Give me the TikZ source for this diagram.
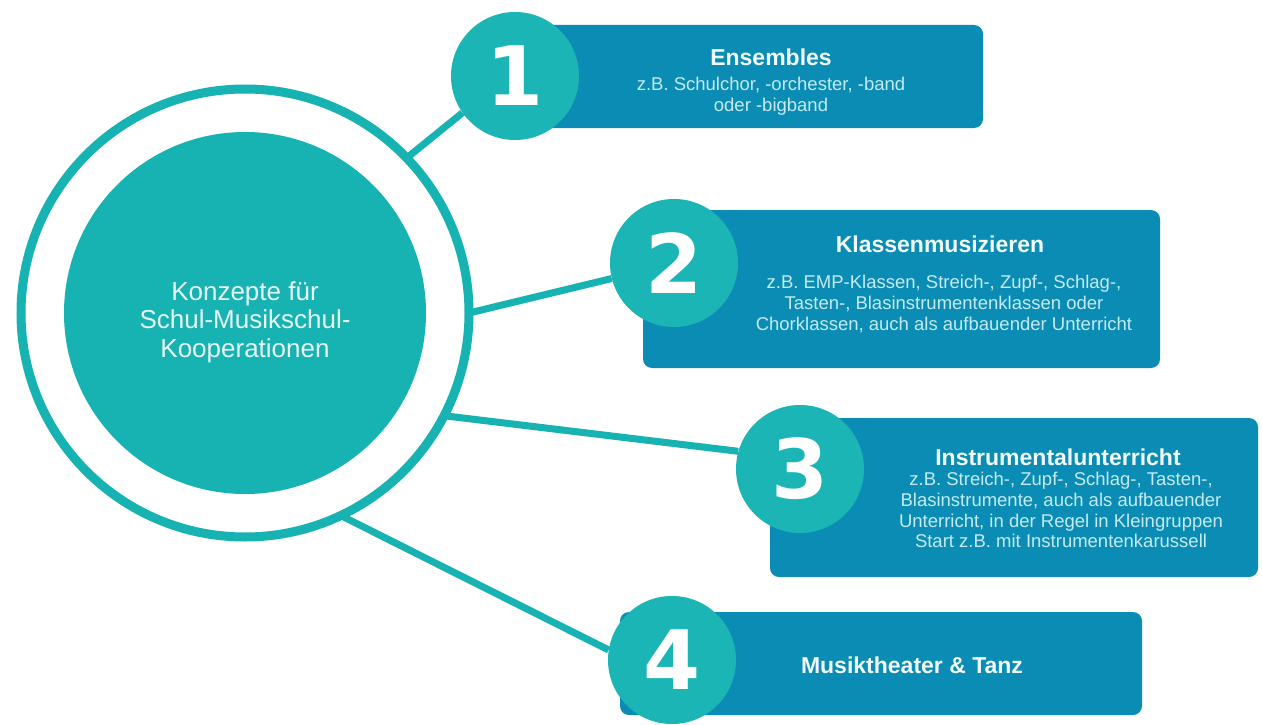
\documentclass[tikz,border=0pt]{standalone}
\usepackage{fontspec}
\setmainfont{Liberation Sans}
\newfontfamily\digitfont{DejaVu Sans}
\definecolor{tealc}{HTML}{17B2B2}
\definecolor{badgec}{HTML}{1BB5B5}
\definecolor{boxc}{HTML}{0A8CB4}
\definecolor{titlec}{HTML}{F2FBFD}
\definecolor{subc}{HTML}{C4EBF3}
\definecolor{hubtextc}{HTML}{E6F8F8}
\pgfdeclarelayer{bg}
\pgfdeclarelayer{links}
\pgfsetlayers{bg,links,main}
\begin{document}
\begin{tikzpicture}[x=1pt,y=-1pt,
  hub/.style={circle, fill=tealc, minimum size=362pt, inner sep=0pt},
  hubring/.style={circle, draw=tealc, line width=9pt, minimum size=448pt, inner sep=0pt},
  hubtext/.style={text=hubtextc, font=\fontsize{26}{28.5}\selectfont, align=center, inner sep=0pt},
  badge/.style={circle, fill=badgec, minimum size=128pt, inner sep=0pt, text=white, font=\digitfont\bfseries\fontsize{82}{82}\selectfont},
  panel/.style={rectangle, rounded corners=9pt, fill=boxc, inner sep=0pt},
  ptitle/.style={text=titlec, font=\bfseries\fontsize{23}{26}\selectfont, inner sep=0pt},
  ptext/.style={text=subc, font=\fontsize{18.5}{20.8}\selectfont, align=center, inner sep=0pt},
  link/.style={draw=tealc, line width=7pt}
]
\useasboundingbox (0,0) rectangle (1262,725);
\begin{pgfonlayer}{bg}
\fill[white] (0,0) rectangle (1262,725);
\end{pgfonlayer}

% hub
\node[hubring] (ring) at (245,313) {};
\node[hub] (hub) at (245,313) {};
\node[hubtext] (hubt) at (245,322) {Konzepte für\\Schul-Musikschul-\\Kooperationen};

% connector start points on the ring
\coordinate (r1) at (406.7,158);
\coordinate (r2) at (469,313);
\coordinate (r3) at (444,415.7);
\coordinate (r4) at (340.7,515.5);

% panels
\node[panel, minimum width=443pt, minimum height=103pt] (p1) at (761.5,76.5) {};
\node[ptitle] (t1) at (771,57) {Ensembles};
\node[ptext] (s1) at (771,96) {z.B. Schulchor, -orchester, -band\\oder -bigband};

\node[panel, minimum width=517pt, minimum height=158pt] (p2) at (901.5,289) {};
\node[ptitle] (t2) at (940,244) {Klassenmusizieren};
\node[ptext] (s2) at (944,304) {z.B. EMP-Klassen, Streich-, Zupf-, Schlag-,\\Tasten-, Blasinstrumentenklassen oder\\Chorklassen, auch als aufbauender Unterricht};

\node[panel, minimum width=488pt, minimum height=159pt] (p3) at (1014,497.5) {};
\node[ptitle] (t3) at (1058,457) {Instrumentalunterricht};
\node[ptext] (s3) at (1061,510) {z.B. Streich-, Zupf-, Schlag-, Tasten-,\\Blasinstrumente, auch als aufbauender\\Unterricht, in der Regel in Kleingruppen\\Start z.B. mit Instrumentenkarussell};

\node[panel, minimum width=522pt, minimum height=103pt] (p4) at (881,663.5) {};
\node[ptitle] (t4) at (912,665) {Musiktheater \& Tanz};

% badges
\node[badge] (b1) at (515,76) {1};
\node[badge] (b2) at (674,263) {2};
\node[badge] (b3) at (800,469) {3};
\node[badge] (b4) at (672,660) {4};

% connectors
\begin{pgfonlayer}{links}
\draw[link] (r1) -- (b1.215);
\draw[link] (r2) -- (b2.194);
\draw[link] (r3) -- (b3.164);
\draw[link] (r4) -- (b4.171);
\end{pgfonlayer}
\end{tikzpicture}
\end{document}
